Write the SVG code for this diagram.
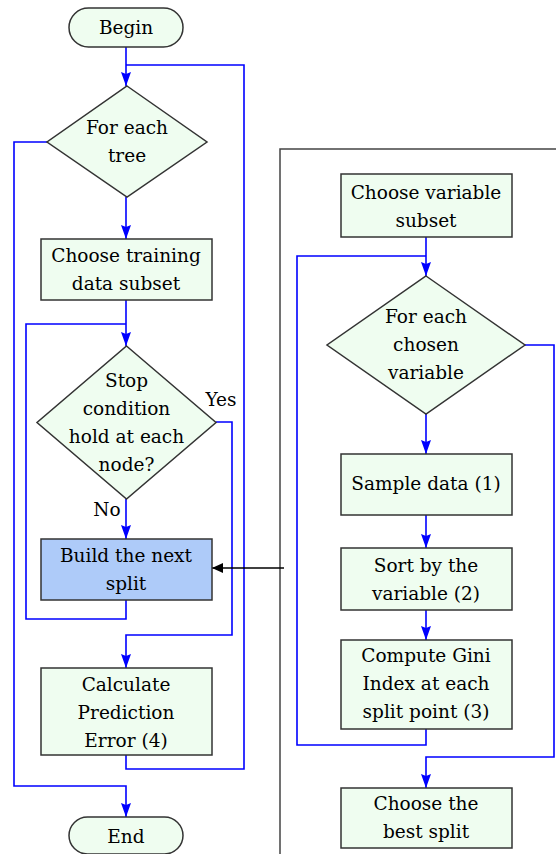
<svg xmlns="http://www.w3.org/2000/svg" width="556" height="854" viewBox="0 0 556 854">
<style>
.box{fill:#effdf0;stroke:#333;stroke-width:1.5}
.hl{fill:#aecbf9;stroke:#333;stroke-width:1.5}
.ln{fill:none;stroke:#0000ff;stroke-width:1.6}
.t{font-family:"DejaVu Serif",serif;font-size:18.5px;fill:#000;text-anchor:middle}
</style>
<defs>
<marker id="ab" markerUnits="userSpaceOnUse" markerWidth="15" markerHeight="11" refX="14" refY="5" orient="auto">
<path d="M0,0 L14,5 L0,10 L2,5 Z" fill="#0000ff"/>
</marker>
<marker id="ak" markerUnits="userSpaceOnUse" markerWidth="15" markerHeight="11" refX="11" refY="5" orient="auto">
<path d="M0,0 L11,5 L0,10 Z" fill="#000"/>
</marker>
</defs>
<rect width="556" height="854" fill="#fff"/>
<g id="frame"><path d="M280,854 V149 H556" fill="none" stroke="#444" stroke-width="1.5"/></g>
<g id="connectors">
<path class="ln" d="M126,47 V86" marker-end="url(#ab)"/>
<path class="ln" d="M126,65 H244 V769 H126 V755"/>
<path class="ln" d="M47,142 H14 V786 H126 V817" marker-end="url(#ab)"/>
<path class="ln" d="M126,197 V239" marker-end="url(#ab)"/>
<path class="ln" d="M126,300 V346" marker-end="url(#ab)"/>
<path class="ln" d="M126,600 V619 H26 V324 H126"/>
<path class="ln" d="M126,499 V539" marker-end="url(#ab)"/>
<path class="ln" d="M216,422 H232 V635 H126 V668" marker-end="url(#ab)"/>
<path d="M284,568 H212" fill="none" stroke="#000" stroke-width="1.3" marker-end="url(#ak)"/>
<path class="ln" d="M426,237 V276" marker-end="url(#ab)"/>
<path class="ln" d="M426,729 V745 H297 V256 H426"/>
<path class="ln" d="M525,345 H554 V757 H426 V788" marker-end="url(#ab)"/>
<path class="ln" d="M426,414 V454" marker-end="url(#ab)"/>
<path class="ln" d="M426,515 V548" marker-end="url(#ab)"/>
<path class="ln" d="M426,610 V640" marker-end="url(#ab)"/>
</g>
<g id="begin"><rect class="box" x="69" y="8" width="114" height="39" rx="19.5"/><text class="t" x="126" y="34">Begin</text></g>
<g id="foreachtree"><path class="box" d="M127,86 L207,142 L127,197 L47,142 Z"/><text class="t" x="127" y="134">For each</text><text class="t" x="127" y="162">tree</text></g>
<g id="choosetraining"><rect class="box" x="41" y="239" width="171" height="61"/><text class="t" x="126" y="262">Choose training</text><text class="t" x="126" y="290">data subset</text></g>
<g id="stop"><path class="box" d="M126.5,346 L216,422.5 L126.5,499 L37,422.5 Z"/><text class="t" x="126.5" y="387">Stop</text><text class="t" x="126.5" y="415">condition</text><text class="t" x="126.5" y="443">hold at each</text><text class="t" x="126.5" y="471">node?</text></g>
<g id="labels"><text class="t" x="221" y="406">Yes</text><text class="t" x="107" y="516">No</text></g>
<g id="build"><rect class="hl" x="41" y="539" width="171" height="61"/><text class="t" x="126" y="562">Build the next</text><text class="t" x="126" y="590">split</text></g>
<g id="calculate"><rect class="box" x="41" y="668" width="171" height="87"/><text class="t" x="126" y="691">Calculate</text><text class="t" x="126" y="719">Prediction</text><text class="t" x="126" y="747">Error (4)</text></g>
<g id="end"><rect class="box" x="69" y="817" width="114" height="37" rx="18.5"/><text class="t" x="126" y="843">End</text></g>
<g id="choosevar"><rect class="box" x="341" y="174" width="171" height="63"/><text class="t" x="426" y="199">Choose variable</text><text class="t" x="426" y="227">subset</text></g>
<g id="foreachvar"><path class="box" d="M426,276 L525,345 L426,414 L327,345 Z"/><text class="t" x="426" y="323">For each</text><text class="t" x="426" y="351">chosen</text><text class="t" x="426" y="379">variable</text></g>
<g id="sample"><rect class="box" x="341" y="454" width="171" height="61"/><text class="t" x="426" y="490">Sample data (1)</text></g>
<g id="sort"><rect class="box" x="341" y="548" width="171" height="62"/><text class="t" x="426" y="572">Sort by the</text><text class="t" x="426" y="600">variable (2)</text></g>
<g id="compute"><rect class="box" x="341" y="640" width="171" height="89"/><text class="t" x="426" y="662">Compute Gini</text><text class="t" x="426" y="690">Index at each</text><text class="t" x="426" y="718">split point (3)</text></g>
<g id="best"><rect class="box" x="341" y="788" width="171" height="60"/><text class="t" x="426" y="810">Choose the</text><text class="t" x="426" y="838">best split</text></g>
</svg>
